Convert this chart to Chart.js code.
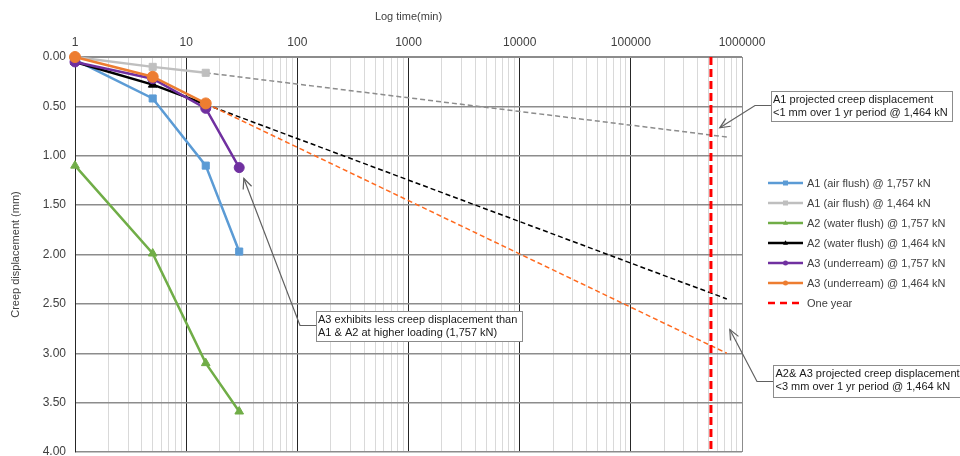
<!DOCTYPE html>
<html><head><meta charset="utf-8">
<script src="https://cdn.jsdelivr.net/npm/chart.js@4.4.1/dist/chart.umd.min.js"></script>
<style>html,body{margin:0;padding:0;background:#fff;overflow:hidden}#wrap{width:960px;height:456px;position:relative}</style>
</head><body><div id="wrap"><canvas id="c" width="960" height="456"></canvas></div>
<script>
// ---- data ----
const timeMin = [1, 5, 15, 30];
const a1Air1757 = [0.03, 0.42, 1.10, 1.97];
const a1Air1464 = [0.00, 0.10, 0.16];
const a2Water1757 = [1.10, 1.99, 3.10, 3.59];
const a2Water1464 = [0.05, 0.28, 0.48];
const a3Under1757 = [0.05, 0.22, 0.52, 1.12];
const a3Under1464 = [0.00, 0.20, 0.47];
const projTime = [15, 730000];
const projA1 = [0.16, 0.81];
const projA2 = [0.48, 2.45];
const projA3 = [0.47, 3.00];
const oneYearMin = 525600;
const oneYearY = [0, 4];
const seriesNames = [
  'A1 (air flush) @ 1,757 kN',
  'A1 (air flush) @ 1,464 kN',
  'A2 (water flush) @ 1,757 kN',
  'A2 (water flush) @ 1,464 kN',
  'A3 (underream) @ 1,757 kN',
  'A3 (underream) @ 1,464 kN',
  'One year'
];
const xDecades = [1, 10, 100, 1000, 10000, 100000, 1000000];
const xTickLabels = ['1', '10', '100', '1000', '10000', '100000', '1000000'];
const yTickValues = [0, 0.5, 1, 1.5, 2, 2.5, 3, 3.5, 4];
const yTickLabels = ['0.00', '0.50', '1.00', '1.50', '2.00', '2.50', '3.00', '3.50', '4.00'];
const xTitle = 'Log time(min)';
const yTitle = 'Creep displacement (mm)';
const notes = [
  { lines: ['A1 projected creep displacement', '<1 mm over 1 yr period @ 1,464 kN'], tip: { x: 631000, y: 0.717 } },
  { lines: ['A3 exhibits less creep displacement than', 'A1 & A2 at higher loading (1,757 kN)'], tip: { x: 33, y: 1.23 } },
  { lines: ['A2& A3 projected creep displacements', '<3 mm over 1 yr period @ 1,464 kN'], tip: { x: 777000, y: 2.76 } }
];

// ---- helpers ----
const pts = (xs, ys) => ys.map((y, i) => ({ x: xs[i], y }));
const FONT = "'Liberation Sans', Arial, sans-serif";

const C = {
  blue: '#5B9BD5', grey: '#BFBFBF', green: '#70AD47', black: '#000000',
  purple: '#7030A0', orange: '#ED7D31', red: '#FF0000',
  projGrey: '#8C8C8C', projOrange: '#FF6A1F'
};

function series(label, data, color, style, r, order) {
  return {
    label, data, borderColor: color, backgroundColor: color,
    borderWidth: 2.5, pointStyle: style, pointRadius: r, pointHoverRadius: r,
    pointBorderWidth: 1, tension: 0, clip: false, order, legend: true
  };
}
function proj(data, color, order) {
  return {
    label: '', data, borderColor: color, backgroundColor: color, borderWidth: 1.5,
    borderDash: [5, 3], pointRadius: 0, tension: 0, clip: false, order, legend: false
  };
}

const datasets = [
  series(seriesNames[0], pts(timeMin, a1Air1757), C.blue, 'rect', 5, 6),
  series(seriesNames[1], pts(timeMin, a1Air1464), C.grey, 'rect', 5, 5),
  series(seriesNames[2], pts(timeMin, a2Water1757), C.green, 'triangle', 5, 4),
  series(seriesNames[3], pts(timeMin, a2Water1464), C.black, 'triangle', 5, 3),
  series(seriesNames[4], pts(timeMin, a3Under1757), C.purple, 'circle', 5, 2),
  series(seriesNames[5], pts(timeMin, a3Under1464), C.orange, 'circle', 5.5, 1),
  Object.assign(proj(pts([oneYearMin, oneYearMin], oneYearY), C.red, 7),
    { label: seriesNames[6], borderWidth: 3, borderDash: [8, 4], legend: true, pointStyle: false }),
  proj(pts(projTime, projA1), C.projGrey, 10),
  proj(pts(projTime, projA2), C.black, 9),
  proj(pts(projTime, projA3), C.projOrange, 8)
];

function drawMarker(ctx, style, x, y, r, color) {
  ctx.save();
  ctx.fillStyle = color;
  ctx.beginPath();
  if (style === 'rect') ctx.rect(x - r, y - r, 2 * r, 2 * r);
  else if (style === 'triangle') { ctx.moveTo(x, y - r * 1.1); ctx.lineTo(x + r, y + r * 0.7); ctx.lineTo(x - r, y + r * 0.7); ctx.closePath(); }
  else if (style === 'circle') ctx.arc(x, y, r, 0, Math.PI * 2);
  ctx.fill();
  ctx.restore();
}

const overlay = {
  id: 'overlay',
  afterDraw(chart) {
    const ctx = chart.ctx;
    const xs = chart.scales.x, ys = chart.scales.y;
    // legend
    ctx.save();
    ctx.font = '11px ' + FONT;
    ctx.textBaseline = 'middle';
    let ly = 183;
    chart.data.datasets.forEach(ds => {
      if (!ds.legend) return;
      ctx.save();
      ctx.strokeStyle = ds.borderColor;
      ctx.lineWidth = 2.5;
      if (ds.label === seriesNames[6]) ctx.setLineDash([7, 5]);
      ctx.beginPath(); ctx.moveTo(768, ly); ctx.lineTo(803, ly); ctx.stroke();
      ctx.restore();
      if (ds.pointStyle) drawMarker(ctx, ds.pointStyle, 785.5, ly, 2.5, ds.borderColor);
      ctx.fillStyle = '#404040';
      ctx.fillText(ds.label, 807, ly + 0.5);
      ly += 20;
    });
    ctx.restore();

    // annotations
    const boxes = [
      { x: 771, y: 91, w: 181, h: 30, tx: 773, elbow: [755, 105.5] },
      { x: 316, y: 311, w: 206, h: 30, tx: 318, elbow: [300, 325.5] },
      { x: 773, y: 365, w: 200, h: 32, tx: 775.5, elbow: [757, 381.5] }
    ];
    notes.forEach((n, i) => {
      const b = boxes[i];
      const tipX = xs.getPixelForValue(n.tip.x), tipY = ys.getPixelForValue(n.tip.y);
      ctx.save();
      ctx.strokeStyle = '#606060';
      ctx.lineWidth = 1.2;
      ctx.beginPath();
      ctx.moveTo(b.x, b.elbow[1]);
      ctx.lineTo(b.elbow[0], b.elbow[1]);
      ctx.lineTo(tipX, tipY);
      ctx.stroke();
      const ang = Math.atan2(b.elbow[1] - tipY, b.elbow[0] - tipX);
      const L = 11, a = 0.42;
      ctx.beginPath();
      ctx.moveTo(tipX + L * Math.cos(ang - a), tipY + L * Math.sin(ang - a));
      ctx.lineTo(tipX, tipY);
      ctx.lineTo(tipX + L * Math.cos(ang + a), tipY + L * Math.sin(ang + a));
      ctx.stroke();
      ctx.fillStyle = '#ffffff';
      ctx.fillRect(b.x + 0.5, b.y + 0.5, b.w, b.h);
      ctx.strokeStyle = '#8C8C8C';
      ctx.lineWidth = 1;
      ctx.strokeRect(b.x + 0.5, b.y + 0.5, b.w, b.h);
      ctx.fillStyle = '#1a1a1a';
      ctx.font = '11px ' + FONT;
      ctx.textBaseline = 'middle';
      n.lines.forEach((t, k) => ctx.fillText(t, b.tx, b.y + 8.8 + k * 13));
      ctx.restore();
    });
  }
};

function noPad(s) { s.paddingTop = 0; s.paddingBottom = 0; s.paddingLeft = 0; s.paddingRight = 0; }

new Chart(document.getElementById('c'), {
  type: 'line',
  data: { datasets },
  options: {
    responsive: false, animation: false, devicePixelRatio: 1,
    layout: { autoPadding: false, padding: { left: 0, top: 0, right: 218, bottom: 4 } },
    plugins: { legend: { display: false }, tooltip: { enabled: false } },
    elements: { line: { borderCapStyle: 'butt' } },
    scales: {
      x: {
        type: 'logarithmic', position: 'top', min: 1, max: 1000000,
        afterFit(s) { s.height = 57; noPad(s); },
        afterBuildTicks(s) {
          const t = [];
          xDecades.forEach((d, i) => {
            if (i === xDecades.length - 1) { t.push({ value: d }); return; }
            for (let m = 1; m < 10; m++) t.push({ value: d * m });
          });
          s.ticks = t;
        },
        ticks: {
          autoSkip: false, maxRotation: 0, padding: 7, color: '#404040',
          font: { family: FONT, size: 12 },
          callback(v) { const i = xDecades.indexOf(v); return i >= 0 ? xTickLabels[i] : ''; }
        },
        grid: {
          drawTicks: false, lineWidth: 1,
          color(c) {
            const v = c.tick && c.tick.value;
            if (v === 1000000) return '#8C8C8C';
            return xDecades.includes(v) ? '#262626' : '#D9D9D9';
          }
        },
        border: { color: '#8C8C8C' },
        title: { display: true, text: xTitle, color: '#404040', font: { family: FONT, size: 11 }, padding: { top: 10, bottom: 0 } }
      },
      y: {
        type: 'linear', reverse: true, min: 0, max: 4,
        afterFit(s) { s.width = 75; noPad(s); },
        afterBuildTicks(s) { s.ticks = yTickValues.map(v => ({ value: v })); },
        ticks: {
          padding: 9, color: '#404040', font: { family: FONT, size: 12 },
          callback(v) { const i = yTickValues.indexOf(v); return i >= 0 ? yTickLabels[i] : ''; }
        },
        grid: { drawTicks: false, color: '#8C8C8C', lineWidth: 1.5 },
        border: { color: '#262626' },
        title: { display: true, text: yTitle, color: '#404040', font: { family: FONT, size: 11 }, padding: { top: 9, bottom: 0 } }
      }
    }
  },
  plugins: [overlay]
});
</script>
</body></html>
